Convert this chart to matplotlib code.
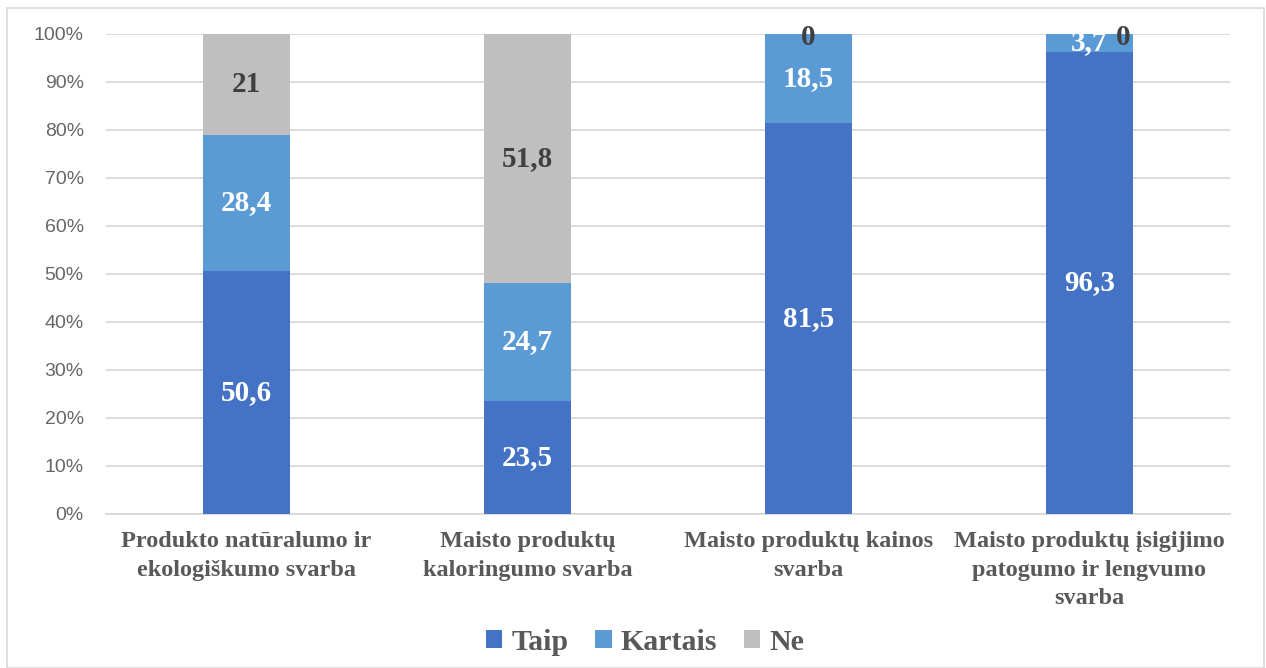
import matplotlib
matplotlib.use("Agg")
import matplotlib.pyplot as plt
from matplotlib.patches import Rectangle
import numpy as np

categories = [
    "Produkto natūralumo ir\nekologiškumo svarba",
    "Maisto produktų\nkaloringumo svarba",
    "Maisto produktų kainos\nsvarba",
    "Maisto produktų įsigijimo\npatogumo ir lengvumo\nsvarba",
]
series_names = ["Taip", "Kartais", "Ne"]
taip = [50.6, 23.5, 81.5, 96.3]
kartais = [28.4, 24.7, 18.5, 3.7]
ne = [21, 51.8, 0, 0]
colors = ["#4472C4", "#5B9BD5", "#BFBFBF"]
label_colors = ["white", "white", "#404040"]
yticks = [0, 10, 20, 30, 40, 50, 60, 70, 80, 90, 100]

fig = plt.figure(figsize=(12.66, 6.68), dpi=100)
fig.patches.append(Rectangle((7/1266, 0), 1257/1266, 660/668, transform=fig.transFigure,
                             fill=False, edgecolor="#d9d9d9", linewidth=1.2))
ax = fig.add_axes([106/1266, 1-514/668, 1124/1266, 480/668])

x = np.arange(len(categories))
width = 0.313
serif = "Liberation Serif"
bottoms = np.zeros(len(categories))
for vals, name, col, lc in zip([taip, kartais, ne], series_names, colors, label_colors):
    vals = np.array(vals, dtype=float)
    ax.bar(x, vals, width, bottom=bottoms, color=col, label=name, zorder=3)
    for i, v in enumerate(vals):
        ycen = bottoms[i] + v / 2
        dx = 0
        dy = 0
        if v == 0:
            dy = -2.5
            if i == 3:
                dx = 24
        txt = ("%g" % v).replace(".", ",")
        ax.annotate(txt, (x[i], ycen), xytext=(dx, dy), textcoords="offset points",
                    ha="center", va="center", fontsize=21, fontweight="bold",
                    family=serif, color=lc, zorder=5)
    bottoms += vals

ax.set_xlim(-0.5, len(categories) - 0.5)
ax.set_ylim(0, 100)
ax.set_yticks(yticks)
ax.set_yticklabels(["%d%%" % t for t in yticks], fontsize=14, color="#666666",
                   family="Liberation Sans")
ax.set_xticks(x)
ax.set_xticklabels(categories, fontsize=17.5, fontweight="bold", family=serif,
                   color="#595959", linespacing=1.45)
ax.tick_params(axis="y", length=0, pad=16)
ax.tick_params(axis="x", length=0, pad=12.5)
ax.grid(axis="y", color="#d9d9d9", linewidth=1.3, zorder=0)
for s in ["top", "right", "left"]:
    ax.spines[s].set_visible(False)
ax.spines["bottom"].set_color("#d9d9d9")
ax.spines["bottom"].set_linewidth(1.3)
ax.set_axisbelow(True)

leg = fig.legend(loc="center", bbox_to_anchor=(645/1266, 1-642/668), ncol=3, frameon=False,
                 prop={"family": serif, "weight": "bold", "size": 21.5},
                 handlelength=0.55, handleheight=0.55, handletextpad=0.3, columnspacing=0.9)
for t in leg.get_texts():
    t.set_color("#595959")

fig.savefig("out.png", dpi=100)
